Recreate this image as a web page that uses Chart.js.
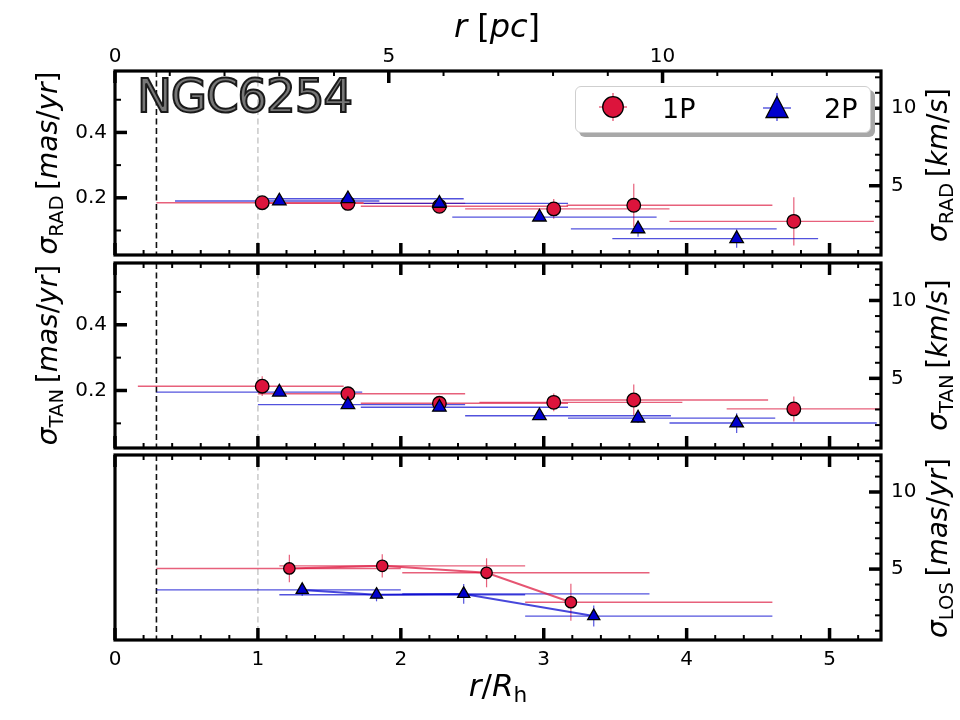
<!DOCTYPE html>
<html>
<head>
<meta charset="utf-8">
<title>NGC6254 — velocity dispersion profiles</title>
<script src="https://cdn.jsdelivr.net/npm/chart.js@4.4.1/dist/chart.umd.min.js"></script>
<style>
  body { margin: 0; background: #fff; font-family: "DejaVu Sans", sans-serif; }
  #fig { position: relative; width: 960px; height: 720px; overflow: hidden; }
  #fig canvas { position: absolute; left: 0; top: 0; }
  .lbl { position: absolute; white-space: nowrap; color: #000; line-height: 1;
         transform: translate(-50%, -50%); }
  .rot { transform: translate(-50%, -50%) rotate(-90deg); }
  .lbl i { font-style: italic; }
  .lbl sub { font-size: 0.7em; vertical-align: -0.3em; font-style: normal; }
  .ylab { font-size: 28px; }
  .xlab { font-size: 31px; }
  #ngc { position: absolute; left: 137px; top: 68px; font-size: 47px; letter-spacing: -1.3px;
         color: #777777; -webkit-text-stroke: 2px #1a1a1a; line-height: normal; }
  #legend { position: absolute; left: 575px; top: 86px; width: 294px; height: 45px;
            background: #fff; border: 1px solid #cfcfcf; border-radius: 6px;
            box-shadow: 4px 4px 0 #a8a8a8; }
  .legtxt { position: absolute; font-size: 27px; line-height: 1; transform: translateY(-50%); }
  .legico { position: absolute; }
</style>
</head>
<body>
<div id="fig">
  <canvas id="cRad" width="960" height="720"></canvas>
  <canvas id="cTan" width="960" height="720"></canvas>
  <canvas id="cLos" width="960" height="720"></canvas>

  <div id="ngc">NGC6254</div>

  <div id="legend"></div>
  <svg class="legico" style="left:598px; top:92px" width="30" height="30">
    <line x1="1" y1="15" x2="29" y2="15" stroke="rgba(220,20,60,0.8)" stroke-width="1.2"/>
    <line x1="15" y1="1" x2="15" y2="29" stroke="rgba(220,20,60,0.8)" stroke-width="1.2"/>
    <circle cx="15" cy="15" r="10.3" fill="#dc143c" stroke="#000" stroke-width="1.3"/>
  </svg>
  <div class="legtxt" style="left:662px; top:108px">1P</div>
  <svg class="legico" style="left:762px; top:92px" width="30" height="30">
    <line x1="1" y1="16" x2="29" y2="16" stroke="rgba(0,0,205,0.8)" stroke-width="1.2"/>
    <line x1="15" y1="1" x2="15" y2="29" stroke="rgba(0,0,205,0.8)" stroke-width="1.2"/>
    <polygon points="15,4.5 26,25.5 4,25.5" fill="#0000cd" stroke="#000" stroke-width="1.3"/>
  </svg>
  <div class="legtxt" style="left:824px; top:108px">2P</div>

  <div class="lbl xlab" style="left:497px; top:26px; font-size:32px"><i>r</i> [<i>pc</i>]</div>
  <div class="lbl xlab" style="left:498px; top:688px"><i>r</i>/<i>R</i><sub>h</sub></div>

  <div class="lbl rot ylab" style="left:50px; top:163px"><i>σ</i><sub>RAD</sub>&thinsp;[<i>mas</i>/<i>yr</i>]</div>
  <div class="lbl rot ylab" style="left:50px; top:355px"><i>σ</i><sub>TAN</sub>&thinsp;[<i>mas</i>/<i>yr</i>]</div>
  <div class="lbl rot ylab" style="left:940px; top:165px"><i>σ</i><sub>RAD</sub>&thinsp;[<i>km</i>/<i>s</i>]</div>
  <div class="lbl rot ylab" style="left:940px; top:355px"><i>σ</i><sub>TAN</sub>&thinsp;[<i>km</i>/<i>s</i>]</div>
  <div class="lbl rot ylab" style="left:940px; top:548px"><i>σ</i><sub>LOS</sub>&thinsp;[<i>mas</i>/<i>yr</i>]</div>
</div>

<script>
// ── Data ─────────────────────────────────────────────────────────────────
// Bin positions in r/Rh, dispersions (RAD / TAN in mas/yr, LOS in km/s),
// y errors, and the radial extent of each bin (lo / hi, in r/Rh).
const radX1P   = [1.03, 1.63, 2.27, 3.07, 3.63, 4.75];
const radY1P   = [0.185, 0.183, 0.174, 0.166, 0.177, 0.128];
const radErr1P = [0.008, 0.008, 0.010, 0.030, 0.066, 0.074];
const radLo1P  = [0.29, 1.00, 1.72, 2.45, 3.16, 3.88];
const radHi1P  = [1.74, 2.45, 3.17, 3.88, 4.60, 5.31];

const radX2P   = [1.15, 1.63, 2.27, 2.97, 3.66, 4.35];
const radY2P   = [0.190, 0.197, 0.183, 0.141, 0.105, 0.075];
const radErr2P = [0.008, 0.008, 0.010, 0.012, 0.024, 0.028];
const radLo2P  = [0.42, 1.00, 1.74, 2.36, 3.19, 3.48];
const radHi2P  = [1.85, 2.44, 3.17, 3.79, 4.63, 4.92];

const tanX1P   = [1.03, 1.63, 2.27, 3.07, 3.63, 4.75];
const tanY1P   = [0.213, 0.190, 0.161, 0.164, 0.171, 0.144];
const tanErr1P = [0.030, 0.015, 0.012, 0.027, 0.047, 0.038];
const tanLo1P  = [0.16, 1.00, 1.72, 2.55, 3.13, 4.28];
const tanHi1P  = [1.60, 2.45, 3.17, 3.97, 4.57, 5.50];

const tanX2P   = [1.15, 1.63, 2.27, 2.97, 3.66, 4.35];
const tanY2P   = [0.195, 0.157, 0.149, 0.123, 0.116, 0.101];
const tanErr2P = [0.008, 0.010, 0.010, 0.010, 0.015, 0.030];
const tanLo2P  = [0.29, 1.00, 1.72, 2.45, 3.17, 3.88];
const tanHi2P  = [1.73, 2.45, 3.17, 3.89, 4.62, 5.33];

const losX1P   = [1.22, 1.87, 2.60, 3.19];
const losY1P   = [5.04, 5.21, 4.76, 2.85];
const losErr1P = [0.89, 0.75, 0.94, 1.20];
const losLo1P  = [0.29, 1.15, 2.01, 2.87];
const losHi1P  = [2.00, 2.87, 3.74, 4.60];

const losX2P   = [1.31, 1.83, 2.44, 3.35];
const losY2P   = [3.65, 3.34, 3.39, 1.95];
const losErr2P = [0.40, 0.43, 0.64, 0.68];
const losLo2P  = [0.29, 1.15, 2.01, 2.87];
const losHi2P  = [2.00, 2.87, 3.74, 4.60];

// Reference radii (dashed verticals): core radius and half-light radius
const refRadii  = [0.29, 1.0];

// Tick labels
const xTicks    = [0, 1, 2, 3, 4, 5];      // r/Rh
const pcTicks   = [0, 5, 10];              // r [pc]
const masTicks  = [0.2, 0.4];              // mas/yr
const kmsTicks  = [5, 10];                 // km/s

// Axis ranges / conversions
const X_MAX = 5.36;          // r/Rh at the right spine
const RH_PC = 2.61;          // 1 Rh in pc
const KMS   = 21.1;          // km/s per mas/yr
const Y_MIN = 0.025, Y_MAX = 0.588;
const LOS_MIN = 0.4, LOS_MAX = 12.4;

// ── Layout ───────────────────────────────────────────────────────────────
const W = 960, H = 720;
const L = 115, R = 881;
const panels = {
    rad: { t: 71,  b: 255 },
    tan: { t: 263, b: 448 },
    los: { t: 455, b: 640 }
};

const RED = '#dc143c', BLUE = '#0000cd';
const RED_ERR = 'rgba(220, 20, 60, 0.68)';
const BLUE_ERR = 'rgba(0, 0, 205, 0.68)';
const TICK_FONT = '20px "DejaVu Sans", sans-serif';

function points(x, y, err, lo, hi) {
    return x.map((v, i) => ({ x: v, y: y[i], ye: err[i], xlo: lo[i], xhi: hi[i] }));
}

function range(a, b, step) {
    const out = [];
    for (let v = a; v <= b + 1e-9; v += step) out.push(+v.toFixed(4));
    return out;
}

// ── Frame plugin: ref lines, error bars, spines, inward ticks, labels ─────
const framePlugin = {
    id: 'frame',
    beforeDatasetsDraw(chart) {
        const { ctx, chartArea: a, scales } = chart;
        const xs = scales.x;
        ctx.save();
        ctx.beginPath();
        ctx.rect(a.left, a.top, a.width, a.height);
        ctx.clip();

        // dashed reference radii
        ctx.lineWidth = 1.6;
        ctx.setLineDash([6, 3.5]);
        refRadii.forEach((r, i) => {
            const px = xs.getPixelForValue(r);
            ctx.strokeStyle = i === 0 ? '#111' : '#cccccc';
            ctx.beginPath();
            ctx.moveTo(px, a.top);
            ctx.lineTo(px, a.bottom);
            ctx.stroke();
        });
        ctx.setLineDash([]);

        // error bars
        chart.data.datasets.forEach(ds => {
            const ys = scales[ds.yAxisID];
            ctx.strokeStyle = ds.errColor;
            ds.data.forEach(p => {
                const px = xs.getPixelForValue(p.x);
                const py = ys.getPixelForValue(p.y);
                ctx.lineWidth = 1.4;
                ctx.beginPath();
                ctx.moveTo(xs.getPixelForValue(p.xlo), py);
                ctx.lineTo(xs.getPixelForValue(p.xhi), py);
                ctx.stroke();
                ctx.lineWidth = 1.2;
                ctx.beginPath();
                ctx.moveTo(px, ys.getPixelForValue(p.y - p.ye));
                ctx.lineTo(px, ys.getPixelForValue(p.y + p.ye));
                ctx.stroke();
            });
        });
        ctx.restore();
    },
    afterDraw(chart, args, opts) {
        const { ctx, chartArea: a, scales } = chart;
        ctx.save();
        ctx.strokeStyle = '#000';

        function tickSet(scale, values, len, width, side) {
            ctx.lineWidth = width;
            values.forEach(v => {
                const p = scale.getPixelForValue(v);
                ctx.beginPath();
                if (side === 'bottom') { ctx.moveTo(p, a.bottom); ctx.lineTo(p, a.bottom - len); }
                if (side === 'top')    { ctx.moveTo(p, a.top);    ctx.lineTo(p, a.top + len); }
                if (side === 'left')   { ctx.moveTo(a.left, p);   ctx.lineTo(a.left + len, p); }
                if (side === 'right')  { ctx.moveTo(a.right, p);  ctx.lineTo(a.right - len, p); }
                ctx.stroke();
            });
        }

        function labelSet(scale, values, side, fmt) {
            ctx.font = TICK_FONT;
            ctx.fillStyle = '#000';
            values.forEach(v => {
                const p = scale.getPixelForValue(v);
                const txt = fmt ? fmt(v) : String(v);
                if (side === 'bottom') {
                    ctx.textAlign = 'center'; ctx.textBaseline = 'alphabetic';
                    ctx.fillText(txt, p, a.bottom + 25);
                } else if (side === 'top') {
                    ctx.textAlign = 'center'; ctx.textBaseline = 'alphabetic';
                    ctx.fillText(txt, p, a.top - 9);
                } else if (side === 'left') {
                    ctx.textAlign = 'right'; ctx.textBaseline = 'middle';
                    ctx.fillText(txt, a.left - 8, p);
                } else {
                    ctx.textAlign = 'left'; ctx.textBaseline = 'middle';
                    ctx.fillText(txt, a.right + 10, p);
                }
            });
        }

        const xMinor = range(0, X_MAX, 0.2);
        tickSet(scales.x, xMinor, 5, 2, 'bottom');
        tickSet(scales.x, xTicks, 12, 3.5, 'bottom');
        if (opts.pcTop) {
            tickSet(scales.xt, range(0, X_MAX * RH_PC, 1), 5, 2, 'top');
            tickSet(scales.xt, pcTicks, 12, 3.5, 'top');
            labelSet(scales.xt, pcTicks, 'top');
        } else {
            tickSet(scales.x, xMinor, 5, 2, 'top');
            tickSet(scales.x, xTicks, 12, 3.5, 'top');
        }
        if (opts.xLabels) labelSet(scales.x, xTicks, 'bottom');
        if (opts.masLeft) {
            tickSet(scales.y, [0.1, 0.3, 0.5], 6, 2, 'left');
            tickSet(scales.y, masTicks, 12, 3.5, 'left');
            labelSet(scales.y, masTicks, 'left', v => v.toFixed(1));
        }
        const yr = scales.yr;
        tickSet(yr, range(1, 12, 1), 6, 2, 'right');
        tickSet(yr, kmsTicks, 12, 3.5, 'right');
        labelSet(yr, kmsTicks, 'right');

        // spines
        ctx.lineWidth = 3.2;
        ctx.strokeRect(a.left, a.top, a.width, a.height);
        ctx.restore();
    }
};

// ── Scales ───────────────────────────────────────────────────────────────
function scale(position, min, max) {
    return {
        type: 'linear', position, min, max,
        grid: { display: false, drawTicks: false },
        border: { display: false },
        ticks: { display: false },
        afterFit: s => { if (s.isHorizontal()) s.height = 0; else s.width = 0; }
    };
}

function makeChart(id, panel, datasets, cfg) {
    const yMin = cfg.los ? LOS_MIN / KMS : Y_MIN;
    const yMax = cfg.los ? LOS_MAX / KMS : Y_MAX;
    return new Chart(document.getElementById(id), {
        type: 'scatter',
        data: { datasets },
        options: {
            responsive: false,
            animation: false,
            devicePixelRatio: 1,
            events: [],
            layout: { padding: { left: L, right: W - R, top: panel.t, bottom: H - panel.b } },
            plugins: {
                legend: { display: false },
                tooltip: { enabled: false },
                frame: { pcTop: !!cfg.pcTop, masLeft: !cfg.los, xLabels: !!cfg.xLabels }
            },
            scales: {
                x:  scale('bottom', 0, X_MAX),
                xt: scale('top', 0, X_MAX * RH_PC),
                y:  scale('left', yMin, yMax),
                yr: scale('right', yMin * KMS, yMax * KMS)
            }
        },
        plugins: [framePlugin]
    });
}

function series(data, pop, yAxisID, big, line) {
    const is1 = pop === '1P';
    return {
        label: pop,
        data: data,
        yAxisID: yAxisID,
        order: is1 ? 1 : 0,
        errColor: is1 ? RED_ERR : BLUE_ERR,
        pointStyle: is1 ? 'circle' : 'triangle',
        pointRadius: is1 ? (big ? 6.8 : 5.7) : (big ? 7.8 : 7.0),
        pointBackgroundColor: is1 ? RED : BLUE,
        pointBorderColor: '#000',
        pointBorderWidth: 1.3,
        showLine: !!line,
        borderColor: is1 ? 'rgba(220, 20, 60, 0.72)' : 'rgba(0, 0, 205, 0.72)',
        borderWidth: 2
    };
}

// ── Charts ───────────────────────────────────────────────────────────────
makeChart('cRad', panels.rad, [
    series(points(radX1P, radY1P, radErr1P, radLo1P, radHi1P), '1P', 'y', true),
    series(points(radX2P, radY2P, radErr2P, radLo2P, radHi2P), '2P', 'y', true)
], { pcTop: true });

makeChart('cTan', panels.tan, [
    series(points(tanX1P, tanY1P, tanErr1P, tanLo1P, tanHi1P), '1P', 'y', true),
    series(points(tanX2P, tanY2P, tanErr2P, tanLo2P, tanHi2P), '2P', 'y', true)
], {});

makeChart('cLos', panels.los, [
    series(points(losX1P, losY1P, losErr1P, losLo1P, losHi1P), '1P', 'yr', false, true),
    series(points(losX2P, losY2P, losErr2P, losLo2P, losHi2P), '2P', 'yr', false, true)
], { los: true, xLabels: true });
</script>
</body>
</html>
